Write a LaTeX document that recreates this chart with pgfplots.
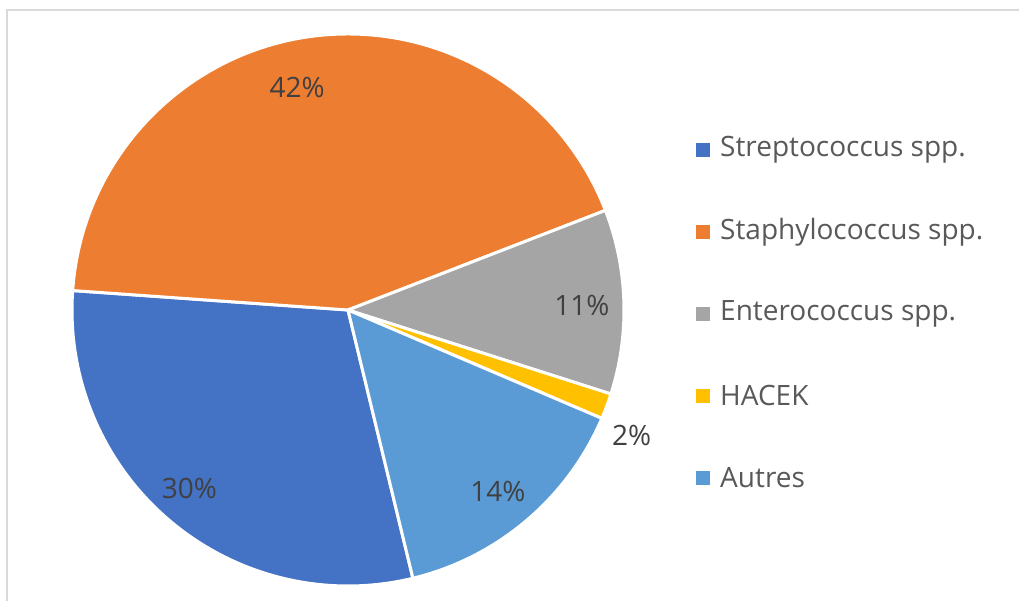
\documentclass[border=0pt]{standalone}
\usepackage{pgfplots}
\usepackage{pgfplotstable}
\pgfplotsset{compat=1.18}
\usetikzlibrary{calc}
\usepackage{fontspec}
\setmainfont{Open Sans}
\definecolor{c0}{HTML}{4472C4}
\definecolor{c1}{HTML}{ED7D31}
\definecolor{c2}{HTML}{A5A5A5}
\definecolor{c3}{HTML}{FFC000}
\definecolor{c4}{HTML}{5B9BD5}
\definecolor{labtext}{HTML}{404040}
\definecolor{legtext}{HTML}{595959}
\definecolor{frame}{HTML}{D9D9D9}

% value = share of the pie (percent), lab = printed label,
% la/lr = label angle (deg) and distance from centre (px)
\pgfplotstableread[col sep=comma]{
value,lab,col,la,lr,name
29.9,30\%,c0,228.4,239,Streptococcus spp.
43.0,42\%,c1,102.9,228,Staphylococcus spp.
10.8,11\%,c2,1.2,234,Enterococcus spp.
1.5,2\%,c3,-23.8,310,HACEK
14.8,14\%,c4,-50.4,235,Autres
}\piedata

\begin{document}
\begin{tikzpicture}[x=1bp,y=1bp]
\useasboundingbox (0,0) rectangle (1019,601);
\fill[white] (0,0) rectangle (1019,601);
\draw[frame, line width=2bp] (7,-5) -- (7,591) -- (1030,591);
\begin{axis}[
  x=1bp, y=1bp, xmin=0, xmax=1019, ymin=0, ymax=601,
  hide axis, scale only axis, clip=false,
  anchor=origin, at={(0,0)},
]
\addplot[draw=none, forget plot] coordinates {(0,0) (1019,601)};
\pgfplotsextra{
  \pgfplotstablegetrowsof{\piedata}
  \pgfmathtruncatemacro{\N}{\pgfplotsretval-1}
  \gdef\curang{-76.4}
  \foreach \i in {0,...,\N} {
    \pgfplotstablegetelem{\i}{value}\of\piedata \let\v\pgfplotsretval
    \pgfplotstablegetelem{\i}{col}\of\piedata \let\c\pgfplotsretval
    \pgfmathsetmacro{\endang}{\curang-3.6*\v}
    \fill[\c, draw=white, line width=3bp, line join=round]
      (axis cs:348,291) -- ++(\curang:276bp)
      arc[start angle=\curang, end angle=\endang, radius=276bp] -- cycle;
    \xdef\curang{\endang}
  }
  \foreach \i in {0,...,\N} {
    \pgfplotstablegetelem{\i}{lab}\of\piedata \let\l\pgfplotsretval
    \pgfplotstablegetelem{\i}{la}\of\piedata \let\la\pgfplotsretval
    \pgfplotstablegetelem{\i}{lr}\of\piedata \let\lr\pgfplotsretval
    \node[text=labtext, font=\fontsize{28bp}{34bp}\selectfont, inner sep=0pt]
      at ($(axis cs:348,291)+(\la:\lr bp)$) {\l};
  }
  \foreach \i in {0,...,\N} {
    \pgfplotstablegetelem{\i}{col}\of\piedata \let\c\pgfplotsretval
    \pgfplotstablegetelem{\i}{name}\of\piedata \let\nm\pgfplotsretval
    \pgfmathsetmacro{\yy}{451-82*\i}
    \fill[\c] (axis cs:696,\yy-7) rectangle (axis cs:710,\yy+7);
    \node[anchor=west, text=legtext, font=\fontsize{28bp}{34bp}\selectfont, inner sep=0pt]
      at (axis cs:720,\yy) {\nm};
  }
}
\end{axis}
\end{tikzpicture}
\end{document}
